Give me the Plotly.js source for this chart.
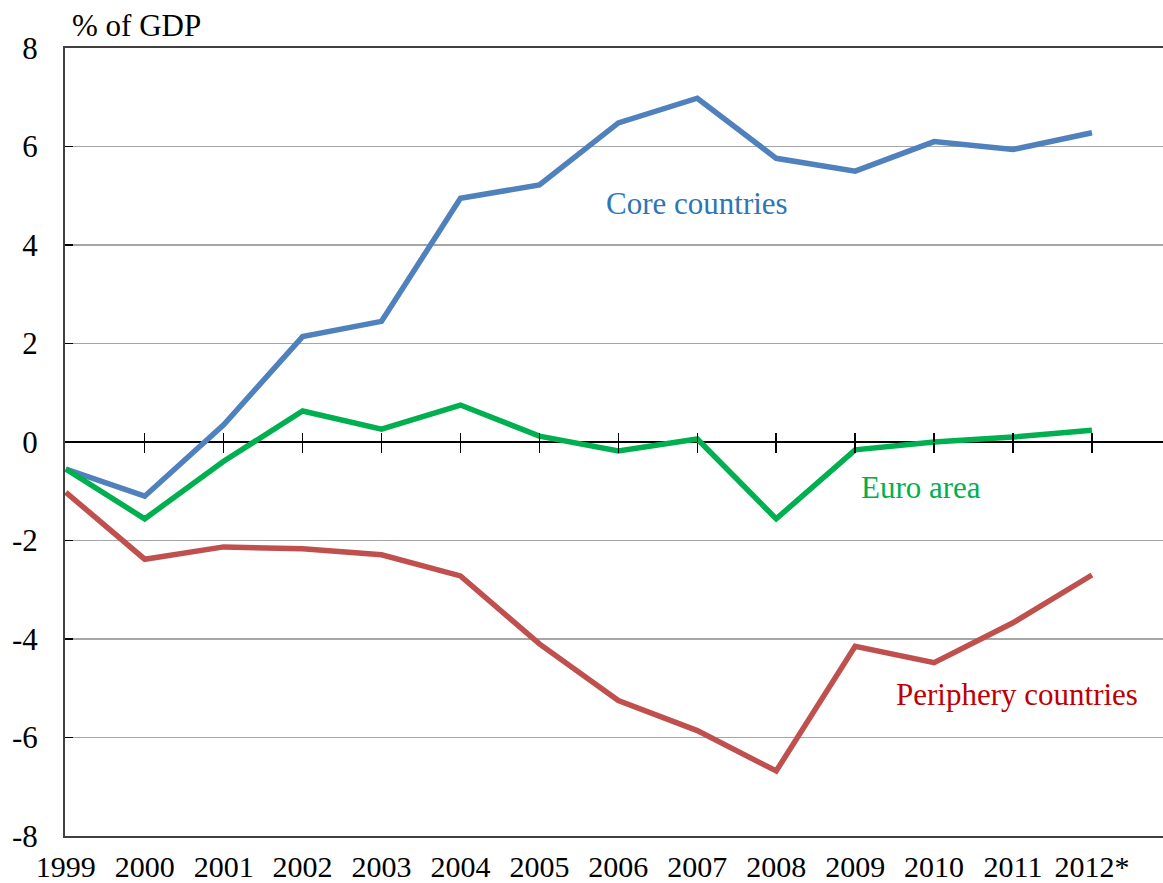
<!DOCTYPE html>
<html>
<head>
<meta charset="utf-8">
<script src="https://cdn.plot.ly/plotly-3.0.1.min.js"></script>
<style>html,body{margin:0;padding:0;background:#fff;}#chart{width:1163px;height:883px;}</style>
</head>
<body>
<div id="chart"></div>
<script>
const years = [1999, 2000, 2001, 2002, 2003, 2004, 2005, 2006, 2007, 2008, 2009, 2010, 2011, 2012];
const yearLabels = ["1999", "2000", "2001", "2002", "2003", "2004", "2005", "2006", "2007", "2008", "2009", "2010", "2011", "2012*"];
const coreCountries = [-0.55, -1.1, 0.35, 2.14, 2.45, 4.95, 5.22, 6.48, 6.98, 5.76, 5.5, 6.1, 5.94, 6.28];
const euroArea = [-0.55, -1.56, -0.39, 0.63, 0.26, 0.75, 0.12, -0.18, 0.06, -1.56, -0.16, 0.0, 0.1, 0.24];
const peripheryCountries = [-1.02, -2.38, -2.13, -2.17, -2.29, -2.72, -4.1, -5.25, -5.86, -6.68, -4.15, -4.48, -3.67, -2.7];
const yTicks = [-8, -6, -4, -2, 0, 2, 4, 6, 8];
const yTickLabels = ["-8", "-6", "-4", "-2", "0", "2", "4", "6", "8"];

const FONT = "'Liberation Serif', 'Times New Roman', serif";
const xRange = [1998.99, 2012.9];
const crossTicks = years.slice(1);

const traces = [
  {x: years, y: peripheryCountries, mode: 'lines', line: {color: '#c0504d', width: 5.5}, name: 'Periphery countries', hoverinfo: 'skip'},
  {x: years, y: coreCountries, mode: 'lines', line: {color: '#4f81bd', width: 5.5}, name: 'Core countries', hoverinfo: 'skip'},
  {x: years, y: euroArea, mode: 'lines', line: {color: '#00b050', width: 5.5}, name: 'Euro area', hoverinfo: 'skip'},
  // invisible carriers for the crossing tick axes on the zero line
  {x: years, y: euroArea, xaxis: 'x2', mode: 'lines', line: {width: 0}, opacity: 0, hoverinfo: 'skip', showlegend: false},
  {x: years, y: euroArea, xaxis: 'x3', mode: 'lines', line: {width: 0}, opacity: 0, hoverinfo: 'skip', showlegend: false}
];

const layout = {
  width: 1163, height: 883,
  margin: {l: 65, r: 0, t: 48, b: 47},
  paper_bgcolor: '#ffffff', plot_bgcolor: '#ffffff',
  showlegend: false,
  font: {family: FONT, color: '#000000', size: 30},
  xaxis: {
    range: xRange, tickmode: 'array', tickvals: years, ticktext: yearLabels,
    ticks: '', showgrid: false, zeroline: false,
    showline: true, linecolor: '#404040', linewidth: 2, mirror: true,
    tickfont: {family: FONT, size: 30, color: '#000'}, ticklabelstandoff: 3
  },
  xaxis2: {
    overlaying: 'x', anchor: 'free', position: 0.5, side: 'bottom',
    range: xRange, tickmode: 'array', tickvals: crossTicks,
    ticks: 'outside', ticklen: 10, tickwidth: 1.5, tickcolor: '#000',
    showticklabels: false, showgrid: false, zeroline: false, showline: false
  },
  xaxis3: {
    overlaying: 'x', anchor: 'free', position: 0.5, side: 'top',
    range: xRange, tickmode: 'array', tickvals: crossTicks,
    ticks: 'outside', ticklen: 9, tickwidth: 1.5, tickcolor: '#000',
    showticklabels: false, showgrid: false, zeroline: false, showline: false
  },
  yaxis: {
    range: [-8, 8], tickmode: 'array', tickvals: yTicks, ticktext: yTickLabels,
    ticks: 'inside', ticklen: 8, tickwidth: 1.5, tickcolor: '#000',
    showgrid: true, gridcolor: '#a6a6a6', gridwidth: 1.5,
    zeroline: true, zerolinecolor: '#000000', zerolinewidth: 1.5,
    showline: true, linecolor: '#404040', linewidth: 2,
    tickfont: {family: FONT, size: 31, color: '#000'}, ticklabelstandoff: 19
  },
  annotations: [
    {text: '% of GDP', xref: 'paper', yref: 'paper', x: 0, y: 1, xanchor: 'left', yanchor: 'bottom',
     xshift: 5, yshift: 3, showarrow: false, font: {family: FONT, size: 31, color: '#000'}},
    {text: 'Core countries', x: 2007, y: 4.85, showarrow: false, xanchor: 'center', yanchor: 'middle',
     font: {family: FONT, size: 31, color: '#2e75b6'}},
    {text: 'Euro area', x: 2009.84, y: -0.92, showarrow: false, xanchor: 'center', yanchor: 'middle',
     font: {family: FONT, size: 31, color: '#00b050'}},
    {text: 'Periphery countries', x: 2011.05, y: -5.13, showarrow: false, xanchor: 'center', yanchor: 'middle',
     font: {family: FONT, size: 31, color: '#c00000'}}
  ]
};

Plotly.newPlot('chart', traces, layout, {staticPlot: true, displayModeBar: false});
</script>
</body>
</html>
